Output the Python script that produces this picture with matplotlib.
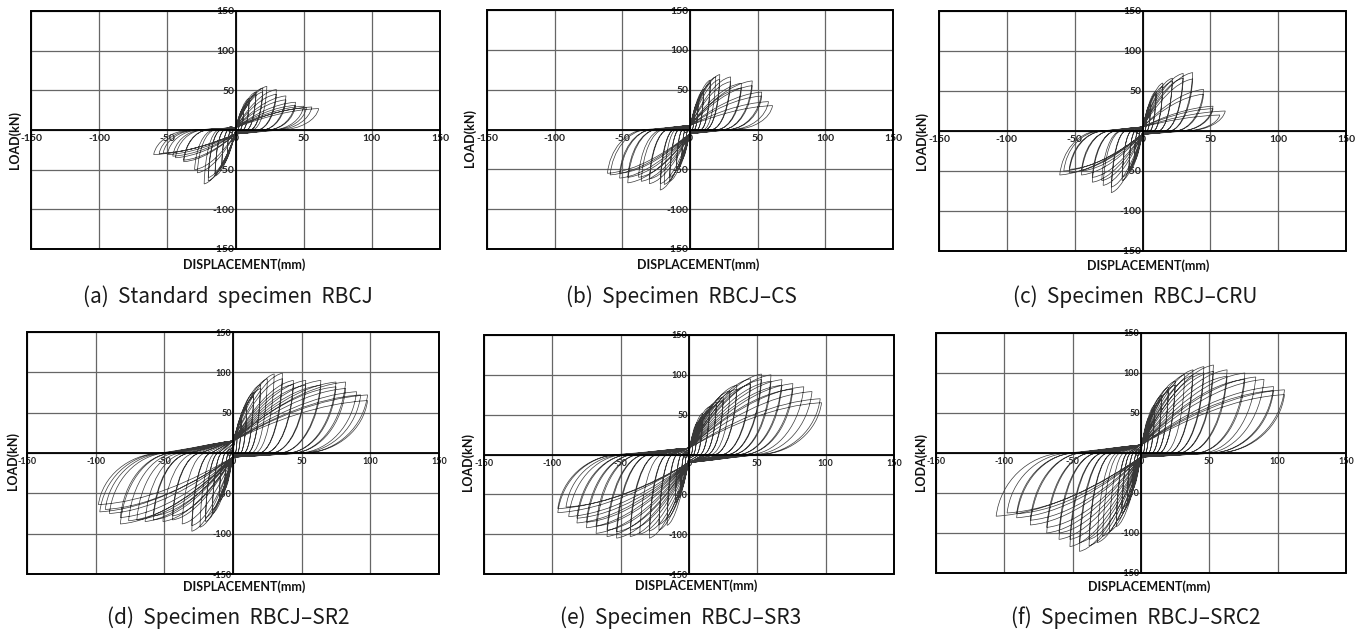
import matplotlib
matplotlib.use("Agg")
import matplotlib.pyplot as plt
from matplotlib.path import Path
from matplotlib.patches import PathPatch, Rectangle

# ---------------- data (cycle peak displacement [mm] / load [kN]) ----------------
a_dpos = [3, 3, 6, 6, 10, 10, 15, 15, 20, 20, 23, 30, 30, 37, 37, 44, 44, 50, 52, 56, 61]
a_ppos = [15, 14, 28, 26, 40, 37, 48, 45, 53, 48, 55, 51, 45, 43, 38, 35, 31, 30, 28, 29, 27]
a_dneg = [-3, -3, -6, -6, -10, -10, -15, -15, -20, -20, -23, -28, -30, -38, -38, -44, -46, -50, -53, -56, -60]
a_pneg = [-15, -14, -30, -28, -45, -42, -58, -55, -64, -60, -68, -54, -50, -38, -40, -35, -33, -31, -29, -30, -31]

b_dpos = [3, 3, 6, 6, 10, 10, 15, 15, 19, 22, 22, 30, 30, 38, 38, 46, 46, 53, 53, 58, 61]
b_ppos = [20, 18, 35, 33, 50, 47, 62, 58, 66, 69, 63, 66, 60, 58, 52, 61, 55, 47, 42, 35, 30]
b_dneg = [-3, -3, -6, -6, -10, -10, -15, -15, -19, -22, -22, -30, -30, -36, -38, -46, -46, -52, -52, -59, -61]
b_pneg = [-20, -18, -38, -35, -52, -49, -65, -60, -69, -76, -68, -68, -62, -65, -60, -67, -60, -61, -55, -57, -55]

c_dpos = [3, 3, 6, 6, 10, 10, 15, 15, 22, 22, 30, 30, 37, 37, 45, 45, 52, 52, 57, 61]
c_ppos = [20, 18, 35, 33, 50, 47, 60, 56, 66, 62, 72, 66, 73, 65, 52, 46, 31, 28, 20, 25]
c_dneg = [-3, -3, -6, -6, -10, -10, -15, -15, -23, -23, -29, -30, -37, -37, -45, -45, -54, -54, -58, -61]
c_pneg = [-20, -18, -38, -35, -52, -49, -62, -58, -77, -70, -68, -62, -64, -58, -55, -50, -52, -48, -50, -55]

d_dpos = [3, 3, 6, 6, 10, 10, 15, 15, 20, 20, 25, 30, 36, 36, 44, 44, 53, 53, 64, 64, 75, 75, 82, 82, 90, 93, 98, 98]
d_ppos = [25, 22, 45, 42, 60, 56, 75, 70, 85, 80, 92, 98, 99, 92, 90, 85, 90, 84, 90, 84, 88, 82, 88, 80, 76, 72, 72, 65]
d_dneg = [-3, -3, -6, -6, -10, -10, -15, -15, -20, -20, -24, -30, -30, -37, -44, -44, -51, -58, -58, -64, -70, -76, -82, -82, -90, -93, -97, -98]
d_pneg = [-25, -22, -45, -42, -60, -56, -75, -70, -85, -80, -92, -97, -90, -88, -83, -78, -85, -83, -78, -85, -83, -84, -88, -80, -75, -70, -73, -64]

e_dpos = [3, 3, 6, 6, 10, 10, 15, 15, 20, 20, 25, 25, 30, 35, 35, 45, 45, 53, 53, 60, 60, 68, 68, 76, 76, 84, 90, 96, 97]
e_ppos = [25, 22, 40, 37, 52, 48, 60, 56, 66, 62, 72, 68, 80, 87, 82, 95, 88, 101, 94, 100, 92, 94, 87, 89, 82, 85, 79, 70, 65]
e_dneg = [-3, -3, -6, -6, -10, -10, -16, -16, -22, -22, -29, -29, -36, -43, -43, -53, -53, -60, -60, -68, -68, -75, -75, -82, -82, -88, -90, -96, -96]
e_pneg = [-25, -22, -45, -42, -60, -56, -89, -80, -95, -88, -105, -96, -100, -103, -95, -105, -97, -103, -95, -99, -90, -92, -85, -86, -80, -78, -66, -73, -68]

f_dpos = [3, 3, 6, 6, 10, 10, 15, 15, 20, 20, 25, 25, 32, 38, 38, 46, 46, 53, 53, 63, 63, 76, 76, 84, 90, 97, 97, 105, 105]
f_ppos = [25, 22, 45, 42, 60, 56, 72, 67, 82, 77, 90, 85, 98, 104, 97, 108, 100, 110, 102, 104, 96, 100, 92, 95, 92, 83, 78, 79, 73]
f_dneg = [-3, -3, -6, -6, -10, -10, -14, -14, -18, -18, -23, -28, -32, -38, -38, -45, -45, -52, -52, -60, -60, -69, -69, -81, -81, -91, -91, -98, -106]
f_pneg = [-25, -22, -45, -42, -60, -56, -75, -70, -92, -85, -98, -104, -112, -116, -108, -123, -112, -117, -108, -108, -100, -100, -93, -90, -84, -81, -76, -75, -79]

# pinching load near zero displacement (upper, lower) per specimen
pinch = {"a": (3, 5), "b": (5, 5), "c": (5, 4), "d": (15, 5), "e": (8, 10), "f": (10, 5)}

captions = ["(a)  Standard  specimen  RBCJ", "(b)  Specimen  RBCJ\u2013CS", "(c)  Specimen  RBCJ\u2013CRU",
            "(d)  Specimen  RBCJ\u2013SR2", "(e)  Specimen  RBCJ\u2013SR3", "(f)  Specimen  RBCJ\u2013SRC2"]
ylabels = ["LOAD(kN)"] * 5 + ["LODA(kN)"]
xlabel = "DISPLACEMENT(mm)"
ticks = [-150, -100, -50, 0, 50, 100, 150]

series = {
    "a": (a_dpos, a_ppos, a_dneg, a_pneg),
    "b": (b_dpos, b_ppos, b_dneg, b_pneg),
    "c": (c_dpos, c_ppos, c_dneg, c_pneg),
    "d": (d_dpos, d_ppos, d_dneg, d_pneg),
    "e": (e_dpos, e_ppos, e_dneg, e_pneg),
    "f": (f_dpos, f_ppos, f_dneg, f_pneg),
}

# ---------------- layout (pixels) ----------------
W, H = 1367, 635
boxes = {  # left, right, top, bottom
    "a": (31, 440, 11, 249), "b": (487, 893, 10, 249), "c": (939, 1346, 11, 251),
    "d": (27, 439, 332, 574), "e": (484, 894, 335, 574), "f": (936, 1346, 333, 573),
}
cap_pos = {"a": (228, 297), "b": (681, 297), "c": (1135, 297),
           "d": (228, 618), "e": (681, 618), "f": (1136, 618)}
ylab_pos = {"a": (15, 140), "b": (470, 138), "c": (922, 141),
            "d": (13, 461), "e": (468, 462), "f": (921, 462)}
xlab_pos = {"a": (244, 265), "b": (698, 265), "c": (1148, 266),
            "d": (244, 587), "e": (696, 586), "f": (1149, 587)}

TICKFONT = ["Lato", "DejaVu Sans"]
CAPFONT = ["Noto Sans CJK KR", "DejaVu Sans"]


def cubic(verts, codes, p1, p2, p3):
    verts += [p1, p2, p3]
    codes += [Path.CURVE4] * 3


def hysteresis(dpos, ppos, dneg, pneg, c_up, c_lo):
    verts = [(0.0, 0.0)]
    codes = [Path.MOVETO]
    cx, cy = 0.0, 0.0
    for dp, pp, dn, pn in zip(dpos, ppos, dneg, pneg):
        su = c_up * min(1.0, dp / 20.0)
        sl = c_lo * min(1.0, -dn / 20.0)
        # reloading along pinched path towards positive side
        cubic(verts, codes, (0.6 * cx, cy + 0.3 * (su - cy)), (0.25 * cx, 0.85 * su), (0.0, su))
        # loading to positive peak
        cubic(verts, codes, (0.3 * dp, su + 0.5 * (pp - su)), (0.65 * dp, 0.95 * pp), (dp, pp))
        # unloading
        ux = 0.55 * dp
        cubic(verts, codes, (0.97 * dp, 0.45 * pp), (0.78 * dp, 0.04 * pp), (ux, 0.0))
        # pinched path towards negative side
        cubic(verts, codes, (0.6 * ux, -0.3 * sl), (0.25 * ux, -0.85 * sl), (0.0, -sl))
        # loading to negative peak
        cubic(verts, codes, (0.3 * dn, -sl + 0.5 * (pn + sl)), (0.65 * dn, 0.95 * pn), (dn, pn))
        # unloading
        vx = 0.55 * dn
        cubic(verts, codes, (0.97 * dn, 0.45 * pn), (0.78 * dn, 0.04 * pn), (vx, 0.0))
        cx, cy = vx, 0.0
    return Path(verts, codes)


fig = plt.figure(figsize=(W / 100, H / 100), dpi=100)
fig.patch.set_facecolor("white")

for idx, key in enumerate("abcdef"):
    l, r, t, b = boxes[key]
    ax = fig.add_axes([l / W, 1 - b / H, (r - l) / W, (b - t) / H])
    ax.set_xlim(-150, 150)
    ax.set_ylim(-150, 150)
    top_row = key in "abc"
    fs = 7.5 if top_row else 6.5

    for s in ("top", "right"):
        ax.spines[s].set_visible(False)
    ax.spines["left"].set_position(("data", 0))
    ax.spines["bottom"].set_position(("data", 0))
    for s in ("left", "bottom"):
        ax.spines[s].set_linewidth(1.3)
        ax.spines[s].set_color("black")
        ax.spines[s].set_zorder(4)
    ax.add_patch(Rectangle((0, 0), 1, 1, transform=ax.transAxes, fill=False,
                           lw=1.4, edgecolor="black", clip_on=False, zorder=5))

    ax.set_xticks(ticks)
    ax.set_yticks(ticks)
    ax.set_xticklabels([str(v) for v in ticks])
    ax.set_yticklabels([str(v) for v in ticks])
    ax.tick_params(axis="both", length=0, labelsize=fs, labelcolor="#222222")
    ax.tick_params(axis="x", pad=3)
    ax.tick_params(axis="y", pad=1)
    for lab in ax.get_xticklabels() + ax.get_yticklabels():
        lab.set_fontweight("bold")
        lab.set_family(TICKFONT)
        lab.set_zorder(6)
    ax.grid(True, color="#666666", lw=0.9, zorder=0)
    ax.set_axisbelow(True)

    dpos, ppos, dneg, pneg = series[key]
    cu, cl = pinch[key]
    path = hysteresis(dpos, ppos, dneg, pneg, cu, cl)
    ax.add_patch(PathPatch(path, facecolor="none", edgecolor="#383838", lw=0.5, zorder=3))

    # labels
    x, y = xlab_pos[key]
    fig.text(x / W, 1 - y / H, xlabel, ha="center", va="center", fontsize=9,
             fontweight="bold", family=TICKFONT, color="#111111")
    x, y = ylab_pos[key]
    fig.text(x / W, 1 - y / H, ylabels[idx], ha="center", va="center", fontsize=9,
             fontweight="bold", family=TICKFONT, rotation=90, color="#111111")
    x, y = cap_pos[key]
    fig.text(x / W, 1 - y / H, captions[idx], ha="center", va="center", fontsize=15,
             family=CAPFONT, fontweight="light", color="#1a1a1a")

fig.savefig("out.png", dpi=100, facecolor="white")
